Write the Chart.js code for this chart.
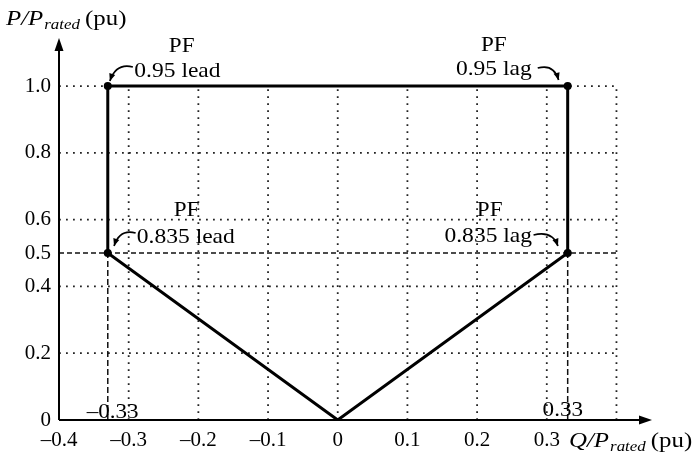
<!DOCTYPE html>
<html>
<head>
<meta charset="utf-8">
<script src="https://cdn.jsdelivr.net/npm/chart.js@4"></script>
<style>
  body { margin: 0; background: #fff; }
</style>
</head>
<body>
<canvas id="chart" width="694" height="454"></canvas>
<script>
// capability curve corners (Q, P) in pu
const capQ = [0, -0.33, -0.33, 0.33, 0.33, 0];
const capP = [0, 0.5, 1.0, 1.0, 0.5, 0];
const cornerIdx = [1, 2, 3, 4];

// axis ticks
const xTicks = [-0.4, -0.3, -0.2, -0.1, 0, 0.1, 0.2, 0.3];
const yTicks = [0, 0.2, 0.4, 0.5, 0.6, 0.8, 1.0];

// dotted grid lines
const xGrid = [-0.3, -0.2, -0.1, 0, 0.1, 0.2, 0.3, 0.4];
const yGrid = [0.2, 0.4, 0.6, 0.8, 1.0];
const gridXMin = -0.4, gridXMax = 0.4, gridYMax = 1.0;

// dashed reference lines
const refP = 0.5;
const refQ = [-0.33, 0.33];

// PF annotations: label, text anchors and curved arrow (tail, control, head)
const pfNotes = [
  { text: '0.95 lead',  pf: [-0.224, 1.102], lbl: [-0.230, 1.027], arrow: [[-0.294, 1.057], [-0.318, 1.070], [-0.327, 1.015]] },
  { text: '0.95 lag',   pf: [0.224, 1.105],  lbl: [0.224, 1.033],  arrow: [[0.287, 1.054], [0.310, 1.068], [0.317, 1.018]] },
  { text: '0.835 lead', pf: [-0.217, 0.610], lbl: [-0.218, 0.529], arrow: [[-0.290, 0.560], [-0.313, 0.573], [-0.321, 0.521]] },
  { text: '0.835 lag',  pf: [0.218, 0.612],  lbl: [0.216, 0.533],  arrow: [[0.281, 0.554], [0.308, 0.568], [0.316, 0.521]] }
];
const qNotes = [
  { text: '\u20130.33', at: [-0.323, 0.005] },
  { text: '0.33', at: [0.323, 0.013] }
];

const FONT = '"Liberation Serif", "DejaVu Serif", serif';
const INK = '#000';

const datasets = [];

// main curve
datasets.push({
  data: capQ.map((q, i) => ({ x: q, y: capP[i] })),
  borderColor: INK,
  borderWidth: 3,
  pointRadius: capQ.map((q, i) => cornerIdx.includes(i) ? 4 : 0),
  pointBackgroundColor: INK,
  pointBorderWidth: 0,
  order: 0
});

xGrid.forEach(q => datasets.push({
  data: [{ x: q, y: 0 }, { x: q, y: gridYMax }],
  borderColor: '#222', borderWidth: 1.8, borderDash: [1.8, 5.2], pointRadius: 0, order: 10
}));
yGrid.forEach(p => datasets.push({
  data: [{ x: gridXMin, y: p }, { x: gridXMax, y: p }],
  borderColor: '#222', borderWidth: 1.8, borderDash: [1.8, 5.2], pointRadius: 0, order: 10
}));
datasets.push({
  data: [{ x: gridXMin, y: refP }, { x: gridXMax, y: refP }],
  borderColor: '#111', borderWidth: 1.5, borderDash: [5, 3], pointRadius: 0, order: 5
});
refQ.forEach(q => datasets.push({
  data: [{ x: q, y: 0 }, { x: q, y: refP }],
  borderColor: '#111', borderWidth: 1.5, borderDash: [6, 3], pointRadius: 0, order: 5
}));

// text drawn a touch wider, like the scanned original
function wideText(ctx, text, x, y, align, sx) {
  ctx.save();
  ctx.translate(x, y);
  ctx.scale(sx, 1);
  ctx.textAlign = align;
  ctx.fillText(text, 0, 0);
  const w = ctx.measureText(text).width * sx;
  ctx.restore();
  return w;
}

function drawSubTitle(ctx, x, y, main, sub, tail) {
  const sx = 1.13;
  ctx.textBaseline = 'alphabetic';
  ctx.font = 'italic 22px ' + FONT;
  x += wideText(ctx, main, x, y, 'left', sx) + 1;
  ctx.font = 'italic 15px ' + FONT;
  x += wideText(ctx, sub, x, y + 4, 'left', sx) + 5;
  ctx.font = '22px ' + FONT;
  wideText(ctx, tail, x, y, 'left', sx);
}

const decor = {
  id: 'decor',
  afterDraw(chart) {
    const ctx = chart.ctx;
    const xs = chart.scales.x, ys = chart.scales.y;
    const area = chart.chartArea;
    ctx.save();
    ctx.fillStyle = INK;
    ctx.strokeStyle = INK;

    // axes with arrowheads
    ctx.lineWidth = 2;
    ctx.beginPath();
    ctx.moveTo(area.left, area.bottom);
    ctx.lineTo(area.right - 4, area.bottom);
    ctx.moveTo(area.left, area.bottom);
    ctx.lineTo(area.left, area.top + 4);
    ctx.stroke();
    ctx.beginPath();
    ctx.moveTo(area.right, area.bottom);
    ctx.lineTo(area.right - 13, area.bottom - 4.5);
    ctx.lineTo(area.right - 13, area.bottom + 4.5);
    ctx.closePath();
    ctx.fill();
    ctx.beginPath();
    ctx.moveTo(area.left, area.top);
    ctx.lineTo(area.left - 4.5, area.top + 13);
    ctx.lineTo(area.left + 4.5, area.top + 13);
    ctx.closePath();
    ctx.fill();

    // axis titles
    drawSubTitle(ctx, 6, 25, 'P/P', 'rated', '(pu)');
    drawSubTitle(ctx, 569, 447, 'Q/P', 'rated', '(pu)');

    // PF annotations
    ctx.font = '21px ' + FONT;
    ctx.textBaseline = 'alphabetic';
    pfNotes.forEach(n => {
      wideText(ctx, 'PF', xs.getPixelForValue(n.pf[0]), ys.getPixelForValue(n.pf[1]), 'center', 1.1);
      wideText(ctx, n.text, xs.getPixelForValue(n.lbl[0]), ys.getPixelForValue(n.lbl[1]), 'center', 1.12);
      const p = n.arrow.map(a => [xs.getPixelForValue(a[0]), ys.getPixelForValue(a[1])]);
      ctx.lineWidth = 1.7;
      ctx.beginPath();
      ctx.moveTo(p[0][0], p[0][1]);
      ctx.quadraticCurveTo(p[1][0], p[1][1], p[2][0], p[2][1]);
      ctx.stroke();
      // arrowhead along tangent at head
      const ang = Math.atan2(p[2][1] - p[1][1], p[2][0] - p[1][0]);
      ctx.beginPath();
      ctx.moveTo(p[2][0], p[2][1]);
      ctx.lineTo(p[2][0] - 8 * Math.cos(ang - 0.4), p[2][1] - 8 * Math.sin(ang - 0.4));
      ctx.lineTo(p[2][0] - 8 * Math.cos(ang + 0.4), p[2][1] - 8 * Math.sin(ang + 0.4));
      ctx.closePath();
      ctx.fill();
    });
    qNotes.forEach(n => {
      wideText(ctx, n.text, xs.getPixelForValue(n.at[0]), ys.getPixelForValue(n.at[1]), 'center', 1.1);
    });
    ctx.restore();
  }
};

const fmt = v => v === 0 ? '0' : (v < 0 ? '\u2013' : '') + Math.abs(v).toFixed(1);

new Chart(document.getElementById('chart'), {
  type: 'line',
  data: { datasets },
  options: {
    responsive: false,
    animation: false,
    devicePixelRatio: 1,
    layout: { padding: { left: 0, top: 38, right: 42, bottom: 0 } },
    plugins: { legend: { display: false }, tooltip: { enabled: false } },
    elements: { line: { tension: 0, fill: false } },
    scales: {
      x: {
        type: 'linear',
        min: -0.4,
        max: 0.451,
        grid: { display: false, drawTicks: false },
        border: { display: false },
        afterBuildTicks: s => { s.ticks = xTicks.map(v => ({ value: v })); },
        afterFit: s => { s.height = 34; },
        ticks: {
          autoSkip: false, maxRotation: 0, padding: 8, color: INK,
          font: { family: FONT, size: 21 },
          callback: v => fmt(v)
        }
      },
      y: {
        type: 'linear',
        min: 0,
        max: 1.144,
        grid: { display: false, drawTicks: false },
        border: { display: false },
        afterBuildTicks: s => { s.ticks = yTicks.map(v => ({ value: v })); },
        afterFit: s => { s.width = 59; },
        ticks: {
          autoSkip: false, padding: 8, color: INK,
          font: { family: FONT, size: 21 },
          callback: v => fmt(v)
        }
      }
    }
  },
  plugins: [decor]
});
</script>
</body>
</html>
